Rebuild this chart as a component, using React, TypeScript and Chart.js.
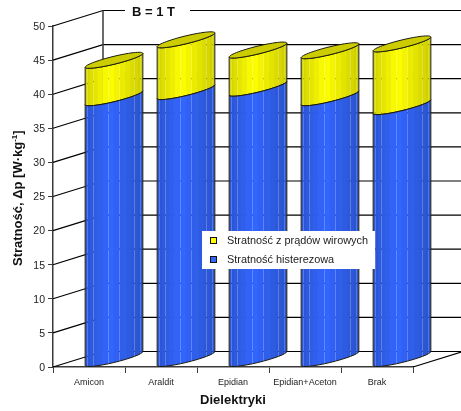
import React, { useEffect, useRef } from "react";
import { Chart, registerables } from "chart.js";

Chart.register(...registerables);

const categories = ["Amicon", "Araldit", "Epidian", "Epidian+Aceton", "Brak"];
const hysteresisLoss = [38.3, 39.2, 39.7, 38.3, 37.0];
const eddyCurrentLoss = [5.5, 7.6, 5.6, 6.9, 9.2];
const eddyLabel = "Stratność z prądów wirowych";
const hysteresisLabel = "Stratność histerezowa";
const yTitleMain = "Stratność, Δp [W·kg";
const yTitleExp = "-1";
const yTitleEnd = "]";
const xTitle = "Dielektryki";
const heading = "B = 1 T";

const FONT = '"Liberation Sans", Arial, sans-serif';
const DEPTH_X = 50;
const DEPTH_Y = 16;
const WALL_LIFT = 15.5;
const FACETS = 16;
const BLUE = [51, 102, 255];
const YELLOW = [255, 255, 0];
const OUTLINE = "#1c1c10";
const AXIS = "#3a3a3a";

// Brightness across the visible face of a cylinder, u running left to right.
function shade(u: number) {
  return u < 0.42 ? 0.82 + (0.18 * u) / 0.42 : 1 - (0.2 * (u - 0.42)) / 0.58;
}

function rgb(base: number[], k: number) {
  return `rgb(${base.map((c) => Math.round(c * k)).join(",")})`;
}

// Point on the sheared ellipse whose lowest front point sits at (frontX, frontY).
function rim(frontX: number, frontY: number, halfW: number, theta: number) {
  const cx = frontX + DEPTH_X / 2;
  const cy = frontY - DEPTH_Y / 2;
  return {
    x: cx + halfW * Math.cos(theta) + (DEPTH_X / 2) * Math.sin(theta),
    y: cy - (DEPTH_Y / 2) * Math.sin(theta),
  };
}

function frontArc(frontX: number, frontY: number, halfW: number) {
  const t0 = Math.atan2(DEPTH_X / 2, halfW);
  const pts = [];
  for (let i = 0; i <= FACETS; i++) {
    const t = t0 + Math.PI + (Math.PI * i) / FACETS;
    pts.push(rim(frontX, frontY, halfW, t));
  }
  return pts;
}

function drawWall(chart: any, el: any, color: number[], isTop: boolean) {
  const { ctx } = chart;
  const halfW = el.width / 2;
  const top = frontArc(el.x, el.y, halfW);
  const bottom = frontArc(el.x, el.base, halfW);
  const left = top[0].x;
  const span = top[FACETS].x - left;

  for (let i = 0; i < FACETS; i++) {
    const u = ((top[i].x + top[i + 1].x) / 2 - left) / span;
    ctx.fillStyle = rgb(color, shade(u));
    ctx.beginPath();
    ctx.moveTo(top[i].x, top[i].y);
    ctx.lineTo(top[i + 1].x, top[i + 1].y);
    ctx.lineTo(bottom[i + 1].x, bottom[i + 1].y);
    ctx.lineTo(bottom[i].x, bottom[i].y);
    ctx.closePath();
    ctx.fill();
  }

  ctx.strokeStyle = OUTLINE;
  ctx.lineWidth = 1;
  ctx.beginPath();
  top.forEach((p, i) => (i ? ctx.lineTo(p.x, p.y) : ctx.moveTo(p.x, p.y)));
  ctx.stroke();
  ctx.beginPath();
  bottom.forEach((p, i) => (i ? ctx.lineTo(p.x, p.y) : ctx.moveTo(p.x, p.y)));
  ctx.stroke();
  ctx.beginPath();
  ctx.moveTo(top[0].x, top[0].y);
  ctx.lineTo(bottom[0].x, bottom[0].y);
  ctx.moveTo(top[FACETS].x, top[FACETS].y);
  ctx.lineTo(bottom[FACETS].x, bottom[FACETS].y);
  ctx.stroke();

  if (isTop) {
    ctx.beginPath();
    for (let i = 0; i <= 60; i++) {
      const p = rim(el.x, el.y, halfW, (Math.PI * i) / 30);
      i ? ctx.lineTo(p.x, p.y) : ctx.moveTo(p.x, p.y);
    }
    ctx.closePath();
    ctx.fillStyle = rgb(color, 0.8);
    ctx.fill();
    ctx.stroke();
  }
}

const perspectivePlugin = {
  id: "perspective",
  beforeDatasetsDraw(chart: any) {
    const { ctx, chartArea: area, scales } = chart;
    const backX = area.left + DEPTH_X;
    ctx.save();
    ctx.strokeStyle = "#000";
    ctx.lineWidth = 1.2;
    for (const tick of scales.y.ticks) {
      const y = scales.y.getPixelForValue(tick.value);
      ctx.beginPath();
      ctx.moveTo(area.left, y);
      ctx.lineTo(backX, y - WALL_LIFT);
      ctx.lineTo(area.right + DEPTH_X, y - WALL_LIFT);
      ctx.stroke();
    }
    ctx.beginPath();
    ctx.moveTo(area.right, area.bottom);
    ctx.lineTo(area.right + DEPTH_X, area.bottom - WALL_LIFT);
    ctx.stroke();
    ctx.strokeStyle = AXIS;
    ctx.lineWidth = 1.5;
    ctx.beginPath();
    ctx.moveTo(backX, area.top - WALL_LIFT);
    ctx.lineTo(backX, area.bottom - WALL_LIFT);
    ctx.stroke();

    ctx.fillStyle = "#fff";
    ctx.fillRect(125, 2, 65, 16);
    ctx.fillStyle = "#111";
    ctx.font = `bold 13px ${FONT}`;
    ctx.textAlign = "center";
    ctx.textBaseline = "middle";
    ctx.fillText(heading, 153.5, 12.5);
    ctx.restore();
  },
  beforeDatasetDraw(chart: any, args: any) {
    const ds = chart.data.datasets[args.index];
    const ctx = chart.ctx;
    ctx.save();
    args.meta.data.forEach((el: any) => drawWall(chart, el, ds.faceColor, args.index === 1));
    ctx.restore();
    return false;
  },
  afterDraw(chart: any) {
    const { ctx, data } = chart;
    ctx.save();
    ctx.fillStyle = "#fff";
    ctx.fillRect(202, 231, 173, 38);
    ctx.textAlign = "left";
    ctx.textBaseline = "middle";
    ctx.font = `10.9px ${FONT}`;
    [data.datasets[1], data.datasets[0]].forEach((ds: any, i: number) => {
      const y = 240.5 + i * 19;
      ctx.fillStyle = ds.backgroundColor;
      ctx.strokeStyle = "#111";
      ctx.lineWidth = 1;
      ctx.fillRect(210.5, y - 3, 6, 6);
      ctx.strokeRect(210.5, y - 3, 6, 6);
      ctx.fillStyle = "#222";
      ctx.fillText(ds.label, 227, y);
    });

    // Rotated value-axis title with a raised exponent.
    ctx.translate(17, 266);
    ctx.rotate(-Math.PI / 2);
    ctx.fillStyle = "#111";
    ctx.textBaseline = "alphabetic";
    ctx.font = `bold 13px ${FONT}`;
    let x = 0;
    ctx.fillText(yTitleMain, x, 5);
    x += ctx.measureText(yTitleMain).width;
    ctx.font = `bold 8px ${FONT}`;
    ctx.fillText(yTitleExp, x, 0);
    x += ctx.measureText(yTitleExp).width;
    ctx.font = `bold 13px ${FONT}`;
    ctx.fillText(yTitleEnd, x, 5);
    ctx.restore();
  },
};

export default function App() {
  const canvasRef = useRef<HTMLCanvasElement>(null);

  useEffect(() => {
    const chart = new Chart(canvasRef.current!, {
      type: "bar",
      data: {
        labels: categories,
        datasets: [
          {
            label: hysteresisLabel,
            data: hysteresisLoss,
            backgroundColor: "rgb(51,102,255)",
            faceColor: BLUE,
            categoryPercentage: 0.4,
            barPercentage: 1,
          } as any,
          {
            label: eddyLabel,
            data: eddyCurrentLoss,
            backgroundColor: "rgb(255,255,0)",
            faceColor: YELLOW,
            categoryPercentage: 0.4,
            barPercentage: 1,
          } as any,
        ],
      },
      options: {
        responsive: false,
        animation: false,
        devicePixelRatio: 1,
        layout: { padding: { left: 0, top: 26, right: 48, bottom: 3 } },
        plugins: { legend: { display: false }, tooltip: { enabled: false } },
        scales: {
          x: {
            stacked: true,
            afterFit: (s: any) => {
              s.height = 41;
            },
            grid: {
              drawOnChartArea: false,
              drawTicks: true,
              tickLength: 6,
              tickWidth: 1,
              tickColor: AXIS,
              offset: true,
            },
            border: { color: AXIS, width: 1.5 },
            ticks: {
              autoSkip: false,
              maxRotation: 0,
              padding: 4,
              color: "#222",
              font: { family: FONT, size: 9 },
            },
            title: {
              display: true,
              text: xTitle,
              color: "#111",
              font: { family: FONT, size: 13, weight: "bold" },
              padding: { top: 0, bottom: 0 },
            },
          },
          y: {
            stacked: true,
            min: 0,
            max: 50,
            afterFit: (s: any) => {
              s.width = 53;
            },
            grid: {
              drawOnChartArea: false,
              drawTicks: true,
              tickLength: 5,
              tickWidth: 1,
              tickColor: AXIS,
            },
            border: { color: AXIS, width: 1.5 },
            ticks: {
              stepSize: 5,
              padding: 3,
              labelOffset: 1,
              color: "#222",
              font: { family: FONT, size: 10.5 },
            },
          },
        },
      },
      plugins: [perspectivePlugin],
    } as any);
    return () => chart.destroy();
  }, []);

  return (
    <div style={{ position: "absolute", left: 0, top: 0, width: 461, height: 411, background: "#fff" }}>
      <canvas ref={canvasRef} width={461} height={411} style={{ display: "block" }} />
    </div>
  );
}
